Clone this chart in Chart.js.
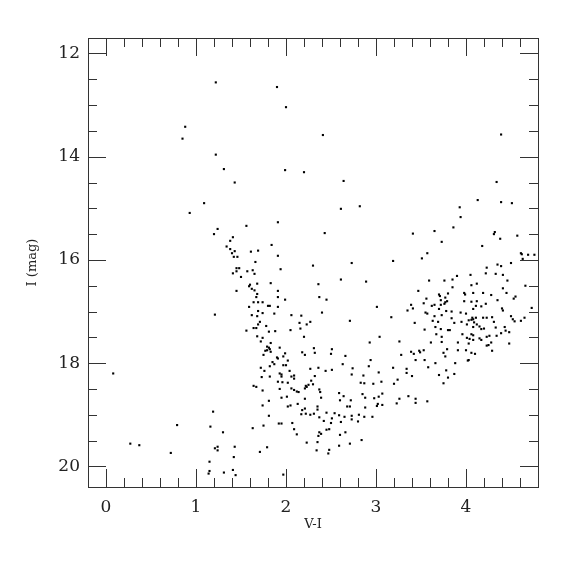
<!DOCTYPE html>
<html>
<head>
<meta charset="utf-8">
<script src="https://cdn.jsdelivr.net/npm/chart.js@4"></script>
<style>
  html, body { margin: 0; padding: 0; background: #fff; }
</style>
</head>
<body>
<canvas id="cmd" width="575" height="575"></canvas>
<script>
// V-I colour vs I magnitude
const brightStars = [
  [1.22,12.56],[0.88,13.42],[0.85,13.65],[1.22,13.96],[1.31,14.24],[1.43,14.50],
  [1.90,12.65],[2.00,13.04],[2.41,13.58],[1.99,14.26],[2.20,14.30],[2.64,14.47],
  [4.39,13.57],[4.34,14.49]
];
const blueStars = [
  [1.09,14.90],[0.93,15.09],[1.24,15.40],[1.20,15.50],[1.41,15.56],[1.38,15.63],[1.34,15.74],[1.38,15.79],
  [1.43,15.83],[1.40,15.87],[1.42,15.94],[1.46,15.94],[1.45,16.16],[1.48,16.16],[1.45,16.22],[1.41,16.26],
  [1.45,16.60],[1.21,17.06],
  [0.08,18.20],[1.19,18.94],[0.79,19.20],[1.16,19.23],[1.30,19.34],[0.27,19.56],[0.37,19.59],[0.72,19.74],
  [1.21,19.65],[1.24,19.62],[1.24,19.69],[1.43,19.62],[1.42,19.82],[1.15,19.91],[1.15,20.09],[1.14,20.14],
  [1.31,20.12],[1.41,20.07],[1.44,20.17]
];
const middleStars = [
  [2.61,15.01],[2.82,14.96],[1.56,15.34],[1.91,15.27],[2.43,15.48],[1.84,15.71],[1.61,15.84],[1.69,15.82],
  [1.91,15.92],[1.66,16.04],[1.57,16.22],[1.63,16.20],[1.65,16.27],[1.94,16.18],[2.30,16.11],[2.73,16.06],
  [1.50,16.33],[1.59,16.51],[1.60,16.48],[1.68,16.46],[1.83,16.45],[1.62,16.56],[1.65,16.59],[1.68,16.66],
  [1.67,16.72],[1.91,16.60],[1.91,16.72],[1.99,16.77],[2.36,16.47],[2.61,16.38],[2.89,16.42],[2.37,16.72],
  [2.45,16.77],[1.59,16.91],[1.64,16.82],[1.69,16.82],[1.74,16.82],[1.80,16.89],[1.82,16.89],[1.91,16.91],
  [2.40,17.02],[3.01,16.91],[1.69,16.99],[1.74,17.03],[1.62,17.07],[1.68,17.09],[1.87,17.04],[2.06,17.07],
  [2.17,17.08],[1.71,17.20],[1.69,17.25],[1.78,17.28],[2.15,17.22],[2.23,17.25],[2.27,17.20],[2.71,17.18],
  [3.17,17.11],[1.56,17.37],[1.64,17.32],[1.67,17.32],[1.81,17.39],[1.88,17.38],[2.05,17.36],[2.16,17.33],
  [1.68,17.48],[1.74,17.51],[2.20,17.49],[3.04,17.49]
];
const redBranch = [
  [4.13,14.84],[4.39,14.88],[4.51,14.90],[3.93,14.98],[3.94,15.17],[3.86,15.37],[3.65,15.44],[3.41,15.49],
  [4.32,15.46],[4.31,15.50],[4.38,15.59],[4.57,15.53],[3.73,15.65],[4.18,15.73],[3.57,15.87],[3.51,15.97],
  [3.19,16.02],[4.61,15.87],[4.62,15.89],[4.69,15.90],[4.76,15.90],[4.63,15.98],[4.35,16.09],[4.39,16.12],
  [4.50,16.06],[4.23,16.15],[4.22,16.26],[4.33,16.27],[4.41,16.29],[4.05,16.29],[3.90,16.31],[3.85,16.38],
  [3.76,16.40],[3.59,16.40],[4.46,16.40],[4.12,16.46],[4.06,16.49],[3.85,16.53],[3.47,16.60],[3.80,16.65],
  [4.41,16.55],[4.66,16.50],[3.70,16.67],[3.71,16.70],[3.77,16.73],[3.56,16.75],[3.98,16.64],[3.99,16.67],
  [4.08,16.64],[4.19,16.64],[4.28,16.68],[4.45,16.64],[4.55,16.71],[4.53,16.75],[3.72,16.78],[3.79,16.80],
  [3.77,16.82],[3.76,16.85],[3.72,16.87],[4.35,16.78],[4.22,16.85],[4.12,16.80],[4.06,16.81],[3.98,16.80],
  [3.53,16.84],[3.62,16.89],[3.65,16.87],[3.39,16.87],[3.41,16.94],[3.35,16.98],[3.70,16.95],[3.78,16.99],
  [3.84,17.00],[3.94,17.02],[4.00,17.04],[4.11,16.89],[4.08,16.95],[4.17,16.90],[4.40,16.94],[4.41,16.98],
  [3.55,17.02],[3.57,17.04],[4.73,16.93],[3.65,17.09],[3.73,17.07],[4.07,17.12],[4.11,17.12],[4.23,17.12],
  [4.29,17.11],[4.50,17.09],[4.52,17.15],[4.54,17.19],[4.61,17.18],[4.65,17.12],[3.43,17.22],[3.63,17.18],
  [3.69,17.20],[3.84,17.13],[3.87,17.22],[3.95,17.20],[4.03,17.17],[4.06,17.16],[4.08,17.15],[4.09,17.21],
  [4.19,17.12],[4.31,17.20],[4.01,17.25],[4.12,17.25],[4.15,17.29],[4.17,17.34],[4.08,17.30],[4.20,17.33],
  [3.54,17.35],[3.66,17.30],[3.72,17.34],[3.80,17.36],[3.82,17.36],[4.33,17.31],[4.43,17.30],[4.44,17.37],
  [4.48,17.40],[4.39,17.42],[3.96,17.44],[4.06,17.44],[4.08,17.46],[3.67,17.44],
  [3.73,17.49],[4.01,17.51],[4.04,17.53],[4.08,17.55],[4.15,17.52],[4.17,17.55],[4.23,17.49],[4.26,17.47],
  [4.34,17.47],[3.26,17.58],[3.61,17.60],[3.73,17.59],[4.03,17.62],[4.28,17.60],[4.23,17.66],[4.25,17.65],
  [4.48,17.62],[3.91,17.60],[3.79,17.73],[3.91,17.75],[4.00,17.75],[3.75,17.80],[3.77,17.87],[4.06,17.80],
  [4.10,17.82],[4.29,17.76],[3.39,17.78],[3.42,17.82],[3.48,17.76],[3.49,17.79],[3.53,17.75],[3.28,17.84],
  [3.44,17.94],[3.54,17.94],[3.66,18.00],[3.88,18.00],[4.02,17.95],[4.03,17.94],[3.58,18.08],[3.19,18.09],
  [3.34,18.11],[3.34,18.19],[3.40,18.25],[3.78,18.14],[3.70,18.23],[3.80,18.28],[3.87,18.21],[3.24,18.32],
  [3.20,18.40],[3.75,18.39],[3.36,18.64],[3.26,18.69],[3.44,18.69],[3.23,18.78],[3.44,18.77],[3.57,18.74]
];
const faintStars = [
  [1.72,17.58],[1.83,17.61],[1.79,17.68],[1.81,17.70],[1.82,17.73],[1.79,17.75],[1.77,17.76],[1.83,17.78],
  [1.75,17.84],[1.93,17.70],[1.99,17.81],[1.97,17.87],[1.90,17.89],[1.91,17.91],[2.02,17.95],[1.85,17.98],
  [1.87,18.02],[1.82,18.06],[1.97,18.04],[2.00,18.04],[1.72,18.09],[1.76,18.15],[1.82,18.26],[1.73,18.27],
  [2.04,18.15],[1.93,18.20],[1.95,18.22],[1.95,18.26],[1.91,18.36],[1.96,18.37],[2.02,18.38],[2.06,18.26],
  [2.09,18.24],[2.09,18.30],[2.18,17.79],[2.21,17.84],[2.31,17.71],[2.32,17.80],[2.51,17.73],[2.50,17.82],
  [2.66,17.86],[2.27,18.11],[2.36,18.09],[2.44,18.15],[2.51,18.13],[2.63,18.02],[2.74,18.10],[2.73,18.22],
  [2.93,17.60],[2.94,17.94],[2.92,18.06],[3.03,18.18],[3.06,18.36],[2.97,18.40],[2.86,18.24],[2.87,18.39],
  [2.83,18.38],[2.32,18.25],[2.28,18.34],[2.22,18.44],[2.21,18.49],[2.23,18.46],[2.25,18.42],[2.30,18.41],
  [1.64,18.44],[1.67,18.46],[1.74,18.53],[1.93,18.50],[2.06,18.49],[2.09,18.52],[2.12,18.55],[2.14,18.56],
  [2.37,18.51],[2.38,18.56],[2.39,18.67],[2.21,18.69],[2.01,18.65],[1.95,18.67],[1.74,18.82],[1.81,18.73],
  [2.13,18.79],[2.05,18.82],[2.02,18.84],[2.18,18.91],[2.21,18.88],[2.17,18.99],[2.22,18.98],[2.27,19.00],
  [2.31,18.98],[2.35,18.84],[2.35,18.90],[2.37,19.05],[2.45,18.96],[2.54,18.97],[2.51,19.07],[2.42,19.12],
  [2.45,19.29],[2.48,19.28],[2.37,19.34],[2.36,19.41],[2.39,19.37],[2.50,19.16],[2.59,18.58],[2.64,18.64],
  [2.72,18.72],[2.60,18.72],[2.68,18.84],[2.71,18.84],[2.59,19.01],[2.65,19.04],[2.61,19.14],[2.73,19.02],
  [2.73,19.09],[2.80,19.13],[2.81,19.00],[2.87,19.04],[2.96,19.04],[2.88,18.86],[2.85,18.60],[2.88,18.67],
  [2.98,18.68],[3.03,18.65],[3.07,18.59],[3.07,18.81],[3.01,18.83],[3.02,18.79],[1.81,19.02],[1.92,19.17],
  [1.95,19.17],[2.07,19.16],[2.09,19.28],[2.12,19.38],[1.63,19.26],[1.75,19.21],[2.60,19.39],[2.66,19.34],
  [2.84,19.49],[2.71,19.56],[2.59,19.60],[2.23,19.54],[2.35,19.53],[2.34,19.69],[2.48,19.68],[2.47,19.75],
  [1.71,19.72],[1.79,19.63],[1.97,20.16]
];

const xTicks = [0, 1, 2, 3, 4];
const yTicks = [12, 14, 16, 18, 20];
const xRange = [-0.2, 4.8];
const yRange = [11.7, 20.4];

const allStars = [].concat(brightStars, blueStars, middleStars, redBranch, faintStars)
    .map(p => ({ x: p[0], y: p[1] }));

const SERIF = '"DejaVu Serif", "Liberation Serif", serif';

// inward ticks on all four sides, plus the frame
const frameTicks = {
    id: 'frameTicks',
    afterDraw(chart) {
        const { ctx, chartArea: a, scales: { x, y } } = chart;
        ctx.save();
        ctx.strokeStyle = '#333';
        ctx.lineWidth = 1;
        ctx.beginPath();
        for (let k = 0; k <= 24; k++) {            // every 0.2 in V-I
            const v = k / 5;
            const px = Math.round(x.getPixelForValue(v)) + 0.5;
            const len = (k % 5 === 0) ? 18 : 9;
            ctx.moveTo(px, a.bottom); ctx.lineTo(px, a.bottom - len);
            ctx.moveTo(px, a.top); ctx.lineTo(px, a.top + len);
        }
        for (let k = 24; k <= 40; k++) {           // every 0.5 mag
            const v = k / 2;
            const py = Math.round(y.getPixelForValue(v)) + 0.5;
            const len = (k % 4 === 0) ? 18 : 9;
            ctx.moveTo(a.left, py); ctx.lineTo(a.left + len, py);
            ctx.moveTo(a.right, py); ctx.lineTo(a.right - len, py);
        }
        ctx.stroke();
        ctx.strokeRect(Math.round(a.left) + 0.5, Math.round(a.top) + 0.5,
            Math.round(a.right - a.left), Math.round(a.bottom - a.top));
        ctx.restore();
    }
};

new Chart(document.getElementById('cmd'), {
    type: 'scatter',
    data: {
        datasets: [{
            data: allStars,
            pointStyle: 'rect',
            pointRadius: 1.5,
            pointBorderWidth: 0,
            backgroundColor: '#000',
            borderColor: '#000'
        }]
    },
    options: {
        responsive: false,
        animation: false,
        layout: { padding: { left: 0, top: 38, right: 37, bottom: 0 } },
        plugins: {
            legend: { display: false },
            tooltip: { enabled: false }
        },
        scales: {
            x: {
                type: 'linear',
                min: xRange[0],
                max: xRange[1],
                grid: { display: false, drawTicks: false },
                border: { display: false },
                afterBuildTicks: s => { s.ticks = xTicks.map(v => ({ value: v })); },
                afterFit: s => { s.height = 88; },
                ticks: {
                    padding: 10,
                    color: '#222',
                    font: { family: SERIF, size: 17 },
                    callback: v => String(v)
                },
                title: {
                    display: true,
                    text: 'V-I',
                    color: '#222',
                    font: { family: SERIF, size: 13 },
                    padding: { top: 0, bottom: 43 }
                }
            },
            y: {
                type: 'linear',
                reverse: true,
                min: yRange[0],
                max: yRange[1],
                grid: { display: false, drawTicks: false },
                border: { display: false },
                afterBuildTicks: s => { s.ticks = yTicks.map(v => ({ value: v })); },
                afterFit: s => { s.width = 88; },
                ticks: {
                    padding: 8,
                    color: '#222',
                    font: { family: SERIF, size: 17 },
                    callback: v => String(v)
                },
                title: {
                    display: true,
                    text: 'I (mag)',
                    color: '#222',
                    font: { family: SERIF, size: 13 },
                    padding: { top: 25, bottom: 0 }
                }
            }
        }
    },
    plugins: [frameTicks]
});
</script>
</body>
</html>
